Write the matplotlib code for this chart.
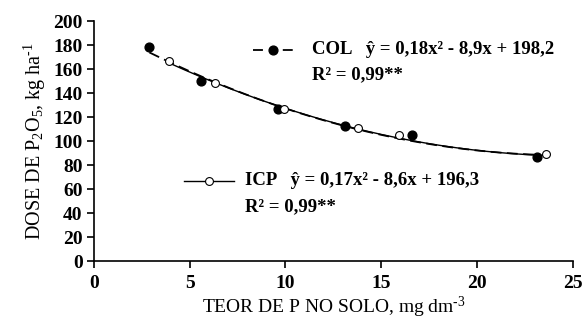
import numpy as np
import matplotlib
matplotlib.use("Agg")
import matplotlib.pyplot as plt

plt.rcParams['font.family'] = ['Liberation Serif', 'DejaVu Serif']
plt.rcParams['mathtext.fontset'] = 'custom'
plt.rcParams['mathtext.rm'] = 'Liberation Serif'
plt.rcParams['mathtext.it'] = 'Liberation Serif:italic'
plt.rcParams['mathtext.bf'] = 'Liberation Serif:bold'

# Donnees
col_x = [2.9, 5.6, 9.6, 13.1, 16.6, 23.1]
col_y = [178.5, 150, 126.5, 113, 105.5, 87]
icp_x = [3.9, 6.3, 9.9, 13.8, 15.9, 23.6]
icp_y = [167, 148.5, 127, 111, 105.5, 89]

# coefficients des equations (a, b, c)
col_coef = [0.18, -8.9, 198.2]
icp_coef = [0.17, -8.6, 196.3]

fig = plt.figure(figsize=(5.86, 3.2), dpi=100)
ax = fig.add_axes([0.160, 0.184, 0.818, 0.750])

xc = np.linspace(min(col_x), max(col_x), 200)
xi = np.linspace(min(icp_x), max(icp_x), 200)
ax.plot(xc, np.polyval(col_coef, xc), color='black', lw=1.3, ls=(0, (6, 3)))
ax.plot(xi, np.polyval(icp_coef, xi), color='black', lw=1.0)

ax.scatter(col_x, col_y, s=40, color='black', zorder=3)
ax.scatter(icp_x, icp_y, s=32, facecolor='white', edgecolor='black', lw=0.8, zorder=4)

ax.set_xlim(0, 25)
ax.set_ylim(0, 200)
ax.set_xticks([0, 5, 10, 15, 20, 25])
ax.set_yticks(range(0, 201, 20))
ax.spines['top'].set_visible(False)
ax.spines['right'].set_visible(False)
ax.spines['left'].set_linewidth(1.2)
ax.spines['bottom'].set_linewidth(1.2)
ax.tick_params(direction='out', length=5, width=1.2, labelsize=14)
for lab in ax.get_xticklabels() + ax.get_yticklabels():
    lab.set_fontweight('bold')
ax.tick_params(axis='x', pad=5)
ax.tick_params(axis='y', pad=3)

ax.set_xlabel('TEOR DE P NO SOLO, mg dm$^{\u2010 3}$', fontsize=14, labelpad=2)
ax.set_ylabel('DOSE DE P$_2$O$_5$, kg ha$^{\u2010 1}$', fontsize=14.5, labelpad=4)

# legendes / equations
ax.plot([8.3, 10.4], [176, 176], color='black', lw=1.3, ls=(0, (5.5, 11)))
ax.scatter([9.35], [176], s=40, color='black', zorder=3)
ax.text(11.4, 176, 'COL   ŷ = 0,18x² - 8,9x + 198,2', fontsize=13.5,
        fontweight='bold', va='center')
ax.text(11.4, 155, 'R² = 0,99**', fontsize=13.5, fontweight='bold', va='center')

ax.plot([4.7, 7.3], [67, 67], color='black', lw=1.0)
ax.scatter([6.0], [67], s=32, facecolor='white', edgecolor='black', lw=0.8, zorder=4)
ax.text(7.9, 67, 'ICP   ŷ = 0,17x² - 8,6x + 196,3', fontsize=13.5,
        fontweight='bold', va='center')
ax.text(7.9, 45, 'R² = 0,99**', fontsize=13.5, fontweight='bold', va='center')

fig.savefig('out.png', dpi=100)
